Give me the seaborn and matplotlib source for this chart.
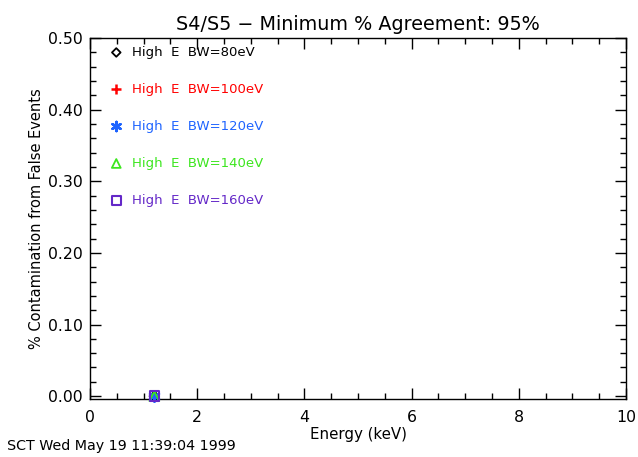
import numpy as np
import pandas as pd
import matplotlib
matplotlib.use("Agg")
import matplotlib.pyplot as plt
import seaborn as sns
from matplotlib.ticker import MultipleLocator

# Data
series = ["High  E  BW=80eV", "High  E  BW=100eV", "High  E  BW=120eV",
          "High  E  BW=140eV", "High  E  BW=160eV"]
energy = [1.2, 1.2, 1.2, 1.2, 1.2]
contamination = [0.0, 0.0, 0.0, 0.0, 0.0]
colors = ["#000000", "#ff0000", "#1e64ff", "#3ce61e", "#6428c8"]

x_ticks = [0, 2, 4, 6, 8, 10]
y_ticks = [0.0, 0.1, 0.2, 0.3, 0.4, 0.5]

df = pd.DataFrame({"series": series, "energy": energy, "contamination": contamination})

sns.set_style("ticks")
plt.rcParams["font.family"] = ["DejaVu Sans"]
plt.rcParams["text.color"] = "black"
plt.rcParams["axes.labelcolor"] = "black"

fig = plt.figure(figsize=(6.38, 4.57), dpi=100)
ax = fig.add_axes([0.1411, 0.1269, 0.8401, 0.7899])

marker_kw = [
    dict(marker="D", s=24, facecolors="none", linewidths=1.3),
    dict(marker="+", s=60, linewidths=1.8),
    dict(marker=(6, 2, 0), s=55, linewidths=1.8),
    dict(marker="^", s=50, facecolors="none", linewidths=1.3),
    dict(marker="s", s=48, facecolors="none", linewidths=1.5),
]

for i, name in enumerate(series):
    sub = df[df["series"] == name]
    kw = dict(marker_kw[i])
    if kw.get("facecolors") == "none":
        kw["edgecolor"] = colors[i]
    else:
        kw["color"] = colors[i]
    sns.scatterplot(data=sub, x="energy", y="contamination", ax=ax,
                    legend=False, clip_on=False, zorder=5, **kw)

ax.set_xlim(0, 10)
ax.set_ylim(-0.004, 0.5)
ax.set_xticks(x_ticks)
ax.set_xticklabels([f"{t:d}" for t in x_ticks])
ax.set_yticks(y_ticks)
ax.set_yticklabels([f"{t:.2f}" for t in y_ticks])
ax.xaxis.set_minor_locator(MultipleLocator(0.5))
ax.yaxis.set_minor_locator(MultipleLocator(0.02))
ax.tick_params(which="both", direction="in", top=True, right=True,
               labelsize=11.3, colors="black", width=1.0)
ax.tick_params(axis="x", which="major", length=8, pad=8)
ax.tick_params(axis="y", which="major", length=8, pad=5)
ax.tick_params(which="minor", length=4)
for sp in ax.spines.values():
    sp.set_visible(True)
    sp.set_color("black")
    sp.set_linewidth(1.0)

ax.set_xlabel("Energy (keV)", fontsize=10.8, labelpad=1)
ax.set_ylabel("% Contamination from False Events", fontsize=10.5, labelpad=3)
ax.set_title("S4/S5 \u2212 Minimum % Agreement: 95%", fontsize=13.8, pad=6,
             color="black")

# Key drawn inside the plot area
for i, name in enumerate(series):
    yk = 0.96 - i * 0.1025
    kw = dict(marker_kw[i])
    s = kw.pop("s") * 0.8
    if kw.get("facecolors") == "none":
        kw["edgecolor"] = colors[i]
    else:
        kw["color"] = colors[i]
    ax.scatter([0.049], [yk], s=s, transform=ax.transAxes, clip_on=False, **kw)
    ax.text(0.078, yk, name, color=colors[i], fontsize=9.5,
            transform=ax.transAxes, va="center", ha="left")

fig.text(0.011, 0.008, "SCT Wed May 19 11:39:04 1999", fontsize=10.3,
         ha="left", va="bottom")

fig.savefig("out.png", dpi=100, facecolor="white")
